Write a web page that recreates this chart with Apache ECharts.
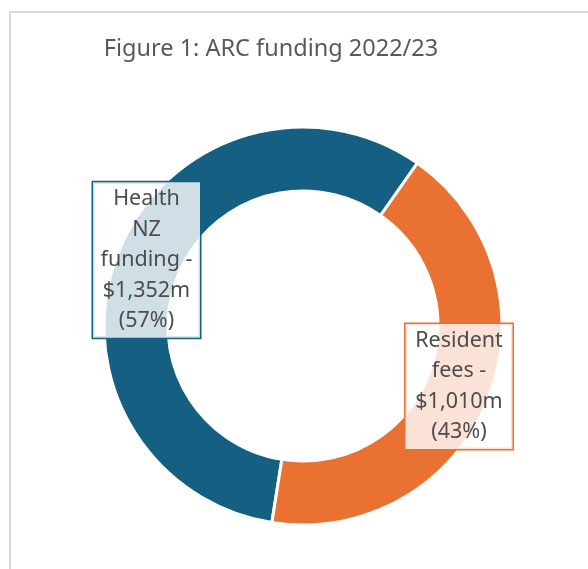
<!DOCTYPE html>
<html>
<head>
<meta charset="utf-8">
<script src="https://cdn.jsdelivr.net/npm/echarts@6/dist/echarts.min.js"></script>
<style>
html,body{margin:0;padding:0;background:#fff;}
#chart{width:588px;height:569px;}
</style>
</head>
<body>
<div id="chart"></div>
<script>
const categories = ['Health NZ funding', 'Resident fees'];
const values = [1352, 1010];
const colors = ['#156082', '#E97132'];
const titleText = 'Figure 1: ARC funding 2022/23';

const chart = echarts.init(document.getElementById('chart'));
const font = '"Noto Sans", sans-serif';
const labelPos = [[146.5, 260], [459, 386.5]];

chart.setOption({
  animation: false,
  graphic: [{
    type: 'rect',
    shape: {x: 10, y: 12, width: 800, height: 800},
    style: {fill: 'none', stroke: '#d9d9d9', lineWidth: 2},
    silent: true, z: -10
  }],
  title: {
    text: titleText,
    left: 266,
    top: 32,
    textAlign: 'center',
    textStyle: {fontFamily: font, fontSize: 23.5, fontWeight: 'normal', color: '#595959'}
  },
  series: [{
    type: 'pie',
    center: [303, 326],
    radius: [135, 199],
    startAngle: 261,
    clockwise: true,
    percentPrecision: 0,
    itemStyle: {borderColor: '#fff', borderWidth: 3},
    data: categories.map((c, i) => ({name: c, value: values[i], itemStyle: {color: colors[i]},
      label: {borderColor: colors[i]}})),
    label: {
      show: true,
      position: 'inside',
      formatter: p => p.name.split(' ').join('\n') + ' -\n$' + p.value.toLocaleString('en-US') + 'm\n(' + p.percent + '%)',
      fontFamily: font,
      fontSize: 21.5,
      lineHeight: 30.5,
      color: '#4d4d4d',
      backgroundColor: 'rgba(255,255,255,0.8)',
      borderWidth: 1.5,
      padding: [3, 3, 0, 3],
      width: 101,
      align: 'center'
    },
    labelLine: {show: false},
    labelLayout: p => ({x: labelPos[p.dataIndex][0], y: labelPos[p.dataIndex][1], align: 'center', verticalAlign: 'middle'})
  }]
});
</script>
</body>
</html>
